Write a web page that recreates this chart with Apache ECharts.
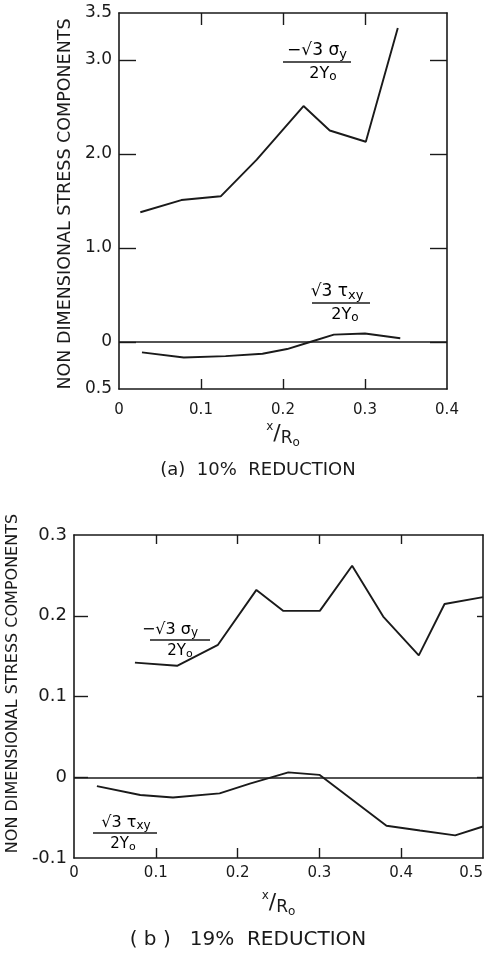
<!DOCTYPE html>
<html>
<head>
<meta charset="utf-8">
<script src="https://cdn.jsdelivr.net/npm/echarts@6/dist/echarts.min.js"></script>
<style>
html, body { margin: 0; padding: 0; background: #fff; }
#main { width: 488px; height: 956px; }
</style>
</head>
<body>
<div id="main"></div>
<script>
// (a) 10% reduction
var sigmaAx = [0.026, 0.076, 0.124, 0.168, 0.225, 0.257, 0.301, 0.340];
var sigmaAy = [1.38, 1.51, 1.55, 1.94, 2.51, 2.25, 2.13, 3.34];
var tauAx = [0.028, 0.079, 0.130, 0.175, 0.205, 0.233, 0.262, 0.300, 0.343];
var tauAy = [-0.11, -0.165, -0.15, -0.125, -0.075, 0.0, 0.078, 0.09, 0.04];
var xTicksA = [0, 0.1, 0.2, 0.3, 0.4];
var yTicksA = [3.5, 3, 2, 1, 0, -0.5];
var yTextA = ['3.5', '3.0', '2.0', '1.0', '0', '0.5'];

// (b) 19% reduction
var sigmaBx = [0.0745, 0.126, 0.176, 0.223, 0.256, 0.3005, 0.340, 0.378, 0.4215, 0.453, 0.5];
var sigmaBy = [0.142, 0.138, 0.164, 0.232, 0.206, 0.206, 0.262, 0.199, 0.151, 0.2145, 0.223];
var tauBx = [0.028, 0.081, 0.121, 0.178, 0.215, 0.262, 0.300, 0.382, 0.423, 0.466, 0.5];
var tauBy = [-0.011, -0.022, -0.025, -0.020, -0.008, 0.006, 0.003, -0.060, -0.066, -0.072, -0.061];
var xTicksB = [0, 0.1, 0.2, 0.3, 0.4, 0.5];
var yTicksB = [0.3, 0.2, 0.1, 0, -0.1];
var yTextB = ['0.3', '0.2', '0.1', '0', '-0.1'];

var ink = '#1a1a1a';
var font = 'DejaVu Sans';

function zip(xs, ys) {
    return xs.map(function (x, i) { return [x, ys[i]]; });
}

function inner(arr, lo, hi) {
    return arr.filter(function (v) { return v > lo && v < hi; });
}

var nameRich = {
    x: { fontSize: 12, fontFamily: font, color: ink, padding: [0, 0, 14, 0] },
    sl: { fontSize: 22, fontFamily: font, color: ink },
    r: { fontSize: 17, fontFamily: font, color: ink, padding: [10, 0, 0, 0] },
    o: { fontSize: 12, fontFamily: font, color: ink, padding: [18, 0, 0, 0] }
};

function bottomX(gi, max, ticks, margin, gap) {
    return {
        gridIndex: gi, type: 'value', min: 0, max: max, position: 'bottom',
        axisLine: { onZero: false, lineStyle: { color: ink, width: 1.6 } },
        axisTick: { inside: true, length: 10, customValues: inner(ticks, 0, max), lineStyle: { color: ink, width: 1.4 } },
        axisLabel: { customValues: ticks, margin: margin, fontSize: 15, fontFamily: font, color: ink,
            alignMaxLabel: max === 0.5 ? 'right' : 'center',
            formatter: function (v) { return String(+v.toFixed(1)); } },
        splitLine: { show: false },
        name: '{x|x}{sl|/}{r|R}{o|o}', nameLocation: 'middle', nameGap: gap,
        nameTextStyle: { rich: nameRich }
    };
}

function topX(gi, max, ticks, len) {
    return {
        gridIndex: gi, type: 'value', min: 0, max: max, position: 'top',
        axisLine: { onZero: false, lineStyle: { color: ink, width: 1.6 } },
        axisTick: { inside: true, length: len, customValues: inner(ticks, 0, max), lineStyle: { color: ink, width: 1.4 } },
        axisLabel: { show: false },
        splitLine: { show: false }
    };
}

function leftY(gi, ticks, texts, tickLen, fs, gap, pad, nameSize) {
    var lo = ticks[ticks.length - 1], hi = ticks[0];
    return {
        gridIndex: gi, type: 'value', min: lo, max: hi, position: 'left',
        axisLine: { onZero: false, lineStyle: { color: ink, width: 1.6 } },
        axisTick: { inside: true, length: tickLen, customValues: inner(ticks, lo, hi), lineStyle: { color: ink, width: 1.4 } },
        axisLabel: { customValues: ticks, margin: 7, fontSize: fs, fontFamily: font, color: ink,
            formatter: function (v) {
                var i = ticks.findIndex(function (t) { return Math.abs(t - v) < 1e-9; });
                return i >= 0 ? texts[i] : '';
            } },
        splitLine: { show: false },
        name: 'NON DIMENSIONAL STRESS COMPONENTS', nameLocation: 'middle', nameGap: gap,
        nameTextStyle: { fontSize: nameSize, fontFamily: font, color: ink, padding: pad }
    };
}

function rightY(gi, ticks, tickLen) {
    var lo = ticks[ticks.length - 1], hi = ticks[0];
    return {
        gridIndex: gi, type: 'value', min: lo, max: hi, position: 'right',
        axisLine: { onZero: false, lineStyle: { color: ink, width: 1.6 } },
        axisTick: { inside: true, length: tickLen, customValues: inner(ticks, lo, hi), lineStyle: { color: ink, width: 1.4 } },
        axisLabel: { show: false },
        splitLine: { show: false }
    };
}

function line(name, data, xi, yi, zero) {
    var s = {
        name: name, type: 'line', xAxisIndex: xi, yAxisIndex: yi,
        data: data, showSymbol: false, symbol: 'none',
        lineStyle: { color: ink, width: 1.9 }
    };
    if (zero) {
        s.markLine = {
            silent: true, symbol: ['none', 'none'], label: { show: false },
            lineStyle: { color: ink, width: 1.5, type: 'solid' },
            data: [{ yAxis: 0 }]
        };
    }
    return s;
}

var fracRich = function (fs) {
    return {
        a: { fontSize: fs, fontFamily: font, color: ink },
        s: { fontSize: fs - 4, fontFamily: font, color: ink, padding: [7, 0, 0, 0] }
    };
};

// fraction label: numerator over bar over denominator
function frac(cx, barY, w, num, den, fs, numDx, denDx) {
    return {
        type: 'group',
        children: [
            { type: 'text', x: cx + numDx, y: barY - 1,
              style: { text: num, rich: fracRich(fs), align: 'center', verticalAlign: 'bottom',
                       textAlign: 'center', textVerticalAlign: 'bottom' } },
            { type: 'line', shape: { x1: cx - w / 2, y1: barY, x2: cx + w / 2, y2: barY },
              style: { stroke: ink, lineWidth: 1.3 } },
            { type: 'text', x: cx + denDx, y: barY + 2,
              style: { text: den, rich: fracRich(fs - 1), align: 'center', verticalAlign: 'top',
                       textAlign: 'center', textVerticalAlign: 'top' } }
        ]
    };
}

var sigNum = '{a|\u2212\u221A3 \u03C3}{s|y}';
var tauNum = '{a|\u221A3 \u03C4}{s|xy}';
var den = '{a|2Y}{s|o}';

var myChart = echarts.init(document.getElementById('main'));

var option = {
    animation: false,
    backgroundColor: '#fff',
    grid: [
        { left: 119, top: 13, width: 328, height: 376, containLabel: false, outerBoundsMode: 'none' },
        { left: 74, top: 535, width: 409, height: 323, containLabel: false, outerBoundsMode: 'none' }
    ],
    xAxis: [
        bottomX(0, 0.4, xTicksA, 14, 30),
        topX(0, 0.4, xTicksA, 12),
        bottomX(1, 0.5, xTicksB, 8, 30),
        topX(1, 0.5, xTicksB, 9)
    ],
    yAxis: [
        leftY(0, yTicksA, yTextA, 17, 17, 42, [0, 6, 0, 0], 17.5),
        rightY(0, yTicksA, 17),
        leftY(1, yTicksB, yTextB, 14, 18, 44, [0, 0, 0, 26], 16),
        rightY(1, yTicksB, 6)
    ],
    series: [
        line('sigmaA', zip(sigmaAx, sigmaAy), 0, 0, false),
        line('tauA', zip(tauAx, tauAy), 0, 0, true),
        line('sigmaB', zip(sigmaBx, sigmaBy), 2, 2, false),
        line('tauB', zip(tauBx, tauBy), 2, 2, true)
    ],
    graphic: [
        frac(317, 62, 68, sigNum, den, 17, 0, 6),
        frac(341, 303, 58, tauNum, den, 17, -4, 4),
        frac(180, 640, 60, sigNum, den, 16, -10, 0),
        frac(125, 833, 64, tauNum, den, 16, 1, -2),
        { type: 'text', x: 258, y: 470,
          style: { text: '(a)  10%  REDUCTION', font: '18px "DejaVu Sans"', fill: ink,
                   align: 'center', verticalAlign: 'middle', textAlign: 'center', textVerticalAlign: 'middle' } },
        { type: 'text', x: 248, y: 940,
          style: { text: '( b )   19%  REDUCTION', font: '20px "DejaVu Sans"', fill: ink,
                   align: 'center', verticalAlign: 'middle', textAlign: 'center', textVerticalAlign: 'middle' } }
    ]
};

myChart.setOption(option);
window.onresize = function () {
    myChart.resize();
};
</script>
</body>
</html>
